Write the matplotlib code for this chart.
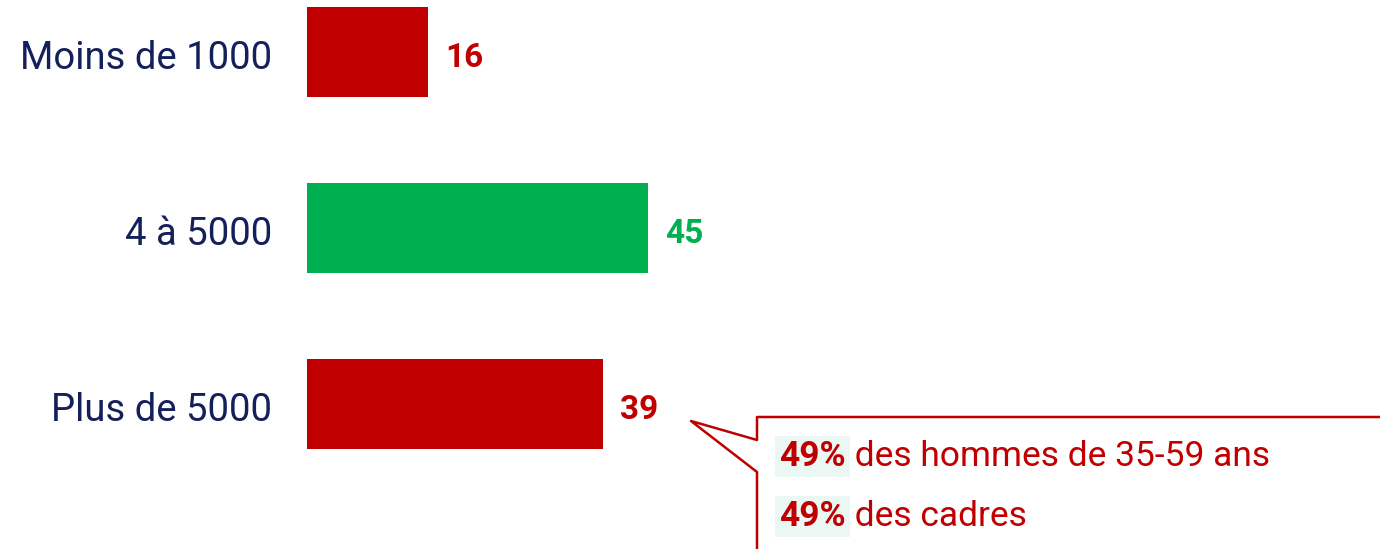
import matplotlib.pyplot as plt
from matplotlib.transforms import Affine2D
from matplotlib.lines import Line2D

categories = ['Moins de 1000', '4 à 5000', 'Plus de 5000']
values = [16, 45, 39]
colors = ['#C00000', '#00B050', '#C00000']
callout_pct = ['49%', '49%']
callout_txt = [' des hommes de 35-59 ans', ' des cadres']

W, H = 1380, 549
navy = '#14205A'
red = '#C00000'
plt.rcParams['font.family'] = ['Roboto', 'DejaVu Sans']

fig = plt.figure(figsize=(W / 100, H / 100), dpi=100)
ax = fig.add_axes([307 / W, 0, 1 - 307 / W, 1])
ax.barh(range(len(values)), values, height=0.51, color=colors)
ax.set_xlim(0, (W - 307) / 7.58)
ax.set_ylim((H - 52) / 176, -52 / 176)
ax.axis('off')

for i, (c, v, col) in enumerate(zip(categories, values, colors)):
    ax.text(-35 / 7.58, i + 17 / 176, c, ha='right', va='baseline',
            fontsize=27.5, color=navy)
    ax.text(v + 17 / 7.58, i + 15 / 176, str(v), ha='left', va='baseline',
            fontsize=24, fontweight='bold', color=col)

# callout box in pixel coordinates
pix = Affine2D().scale(1 / W, -1 / H).translate(0, 1) + fig.transFigure
xs = [757, 757, 691, 757, 757, 1400]
ys = [560, 472, 421, 440, 417, 417]
fig.add_artist(Line2D(xs, ys, transform=pix, color=red, lw=1.8))

for k, (p, t) in enumerate(zip(callout_pct, callout_txt)):
    y = 466 + 60 * k
    t1 = fig.text(779, y, p, transform=pix, ha='left', va='baseline', fontsize=25.5,
                  fontweight='bold', color=red,
                  bbox=dict(facecolor='#EAF7F3', edgecolor='none', pad=3))
    ax.annotate(t, xy=(1, 0), xycoords=t1, ha='left', va='bottom',
                fontsize=25.5, color=red)

fig.savefig('out.png', dpi=100)
